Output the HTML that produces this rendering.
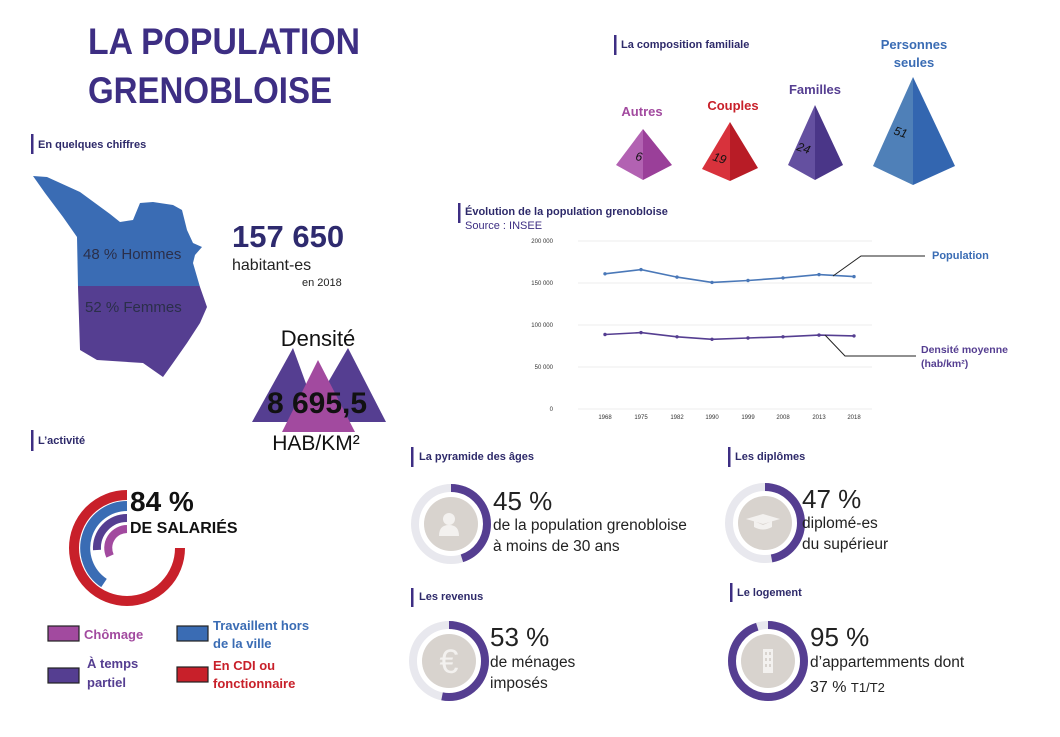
<!DOCTYPE html>
<html><head><meta charset="utf-8"><style>
html,body{margin:0;padding:0;background:#fff;}
svg{display:block;font-family:"Liberation Sans",sans-serif;}
.h{font-size:11px;font-weight:bold;fill:#2e2a6a;}
.bar{fill:#3d2e83;}
</style></head><body>
<svg width="1060" height="737" viewBox="0 0 1060 737" xmlns="http://www.w3.org/2000/svg">
<rect width="1060" height="737" fill="#fff"/>
<text x="88" y="54" font-size="37" font-weight="bold" fill="#3d2e83" textLength="272" lengthAdjust="spacingAndGlyphs">LA POPULATION</text>
<text x="88" y="103" font-size="37" font-weight="bold" fill="#3d2e83" textLength="244" lengthAdjust="spacingAndGlyphs">GRENOBLOISE</text>

<rect class="bar" x="31" y="134" width="2.5" height="20"/><text class="h" x="38" y="148">En quelques chiffres</text>
<rect class="bar" x="31" y="430" width="2.5" height="21"/><text class="h" x="38" y="444">L’activité</text>
<rect class="bar" x="614" y="35" width="2.5" height="20"/><text class="h" x="621" y="48">La composition familiale</text>
<rect class="bar" x="458" y="203" width="2.5" height="20"/><text class="h" x="465" y="215">Évolution de la population grenobloise</text>
<text x="465" y="229" font-size="11" fill="#3d2e83">Source : INSEE</text>
<rect class="bar" x="411" y="447" width="2.5" height="20"/><text class="h" x="419" y="460">La pyramide des âges</text>
<rect class="bar" x="728" y="447" width="2.5" height="20"/><text class="h" x="735" y="460">Les diplômes</text>
<rect class="bar" x="411" y="588" width="2.5" height="19"/><text class="h" x="419" y="600">Les revenus</text>
<rect class="bar" x="730" y="583" width="2.5" height="19"/><text class="h" x="737" y="596">Le logement</text>

<defs><clipPath id="mp"><path d="M33,176 L47,177 L80,192 L110,214 L120,222 L133,220 L140,203 L153,202 L173,205 L182,210 L187,230 L193,243 L202,247 L195,255 L193,263 L200,287 L207,307 L200,323 L187,343 L173,363 L163,377 L143,363 L97,360 L80,350 L78,287 L77,237 L63,217 L45,193 Z"/></clipPath></defs>
<g clip-path="url(#mp)">
<rect x="20" y="160" width="200" height="126" fill="#3a6cb4"/>
<rect x="20" y="286" width="200" height="100" fill="#553e91"/>
</g>
<text x="83" y="259" font-size="15" fill="#2b2f4a">48 % Hommes</text>
<text x="85" y="312" font-size="15" fill="#2b2f4a">52 % Femmes</text>

<text x="232" y="247" font-size="31" font-weight="bold" fill="#2e2a6e">157 650</text>
<text x="232" y="270" font-size="16" fill="#222">habitant-es</text>
<text x="302" y="286" font-size="11" fill="#222">en 2018</text>

<text x="318" y="346" font-size="22" fill="#111" text-anchor="middle">Densité</text>
<polygon points="293,348 252,422 320,422" fill="#553e91"/>
<polygon points="348,348 305,422 386,422" fill="#553e91"/>
<polygon points="318,360 282,432 355,432" fill="#a24a9f"/>
<text x="317" y="413" font-size="30" font-weight="bold" fill="#111" text-anchor="middle">8 695,5</text>
<text x="316" y="450" font-size="21" fill="#111" text-anchor="middle">HAB/KM²</text>

<g fill="none" stroke-linecap="butt">
<path d="M127,495 A53,53 0 1 0 180,548" stroke="#c8202a" stroke-width="10"/>
<path d="M127,506 A42,42 0 0 0 104,583" stroke="#3a6cb4" stroke-width="10"/>
<path d="M127,518 A30,30 0 0 0 97,550" stroke="#553e91" stroke-width="8"/>
<path d="M127,529 A19,19 0 0 0 110,556" stroke="#a24a9f" stroke-width="8"/>
</g>
<text x="130" y="511" font-size="28" font-weight="bold" fill="#111">84 %</text>
<text x="130" y="533" font-size="16" font-weight="bold" fill="#111">DE SALARIÉS</text>

<rect x="48" y="626" width="31" height="15" fill="#a24a9f" stroke="#222" stroke-width="1.2"/>
<text x="84" y="639" font-size="13" font-weight="bold" fill="#a24a9f">Chômage</text>
<rect x="177" y="626" width="31" height="15" fill="#3a6cb4" stroke="#222" stroke-width="1.2"/>
<text x="213" y="630" font-size="13" font-weight="bold" fill="#3a6cb4">Travaillent hors</text>
<text x="213" y="648" font-size="13" font-weight="bold" fill="#3a6cb4">de la ville</text>
<rect x="48" y="668" width="31" height="15" fill="#553e91" stroke="#222" stroke-width="1.2"/>
<text x="87" y="668" font-size="13" font-weight="bold" fill="#553e91">À temps</text>
<text x="87" y="687" font-size="13" font-weight="bold" fill="#553e91">partiel</text>
<rect x="177" y="667" width="31" height="15" fill="#c8202a" stroke="#222" stroke-width="1.2"/>
<text x="213" y="670" font-size="13" font-weight="bold" fill="#c8202a">En CDI ou</text>
<text x="213" y="688" font-size="13" font-weight="bold" fill="#c8202a">fonctionnaire</text>

<g font-size="13" font-weight="bold" text-anchor="middle">
<text x="642" y="116" fill="#a24a9f">Autres</text>
<text x="733" y="110" fill="#c8202a">Couples</text>
<text x="815" y="94" fill="#553e91">Familles</text>
<text x="914" y="49" fill="#3a6cb4">Personnes</text>
<text x="914" y="67" fill="#3a6cb4">seules</text>
</g>
<polygon points="643,129 616,165 643,180" fill="#b262b2"/><polygon points="643,129 643,180 672,165" fill="#9a3f99"/>
<polygon points="730,122 702,169 730,181" fill="#d8323c"/><polygon points="730,122 730,181 758,168" fill="#b81c26"/>
<polygon points="815,105 788,165 815,180" fill="#6450a0"/><polygon points="815,105 815,180 843,165" fill="#4a3688"/>
<polygon points="913,77 873,166 913,185" fill="#4f80b8"/><polygon points="913,77 913,185 955,166" fill="#3366b0"/>
<g font-size="12" font-style="italic" fill="#111">
<text x="635" y="160" transform="rotate(10 635 160)">6</text>
<text x="712" y="160" transform="rotate(18 712 160)">19</text>
<text x="796" y="150" transform="rotate(18 796 150)">24</text>
<text x="893" y="134" transform="rotate(18 893 134)">51</text>
</g>

<g stroke="#ececec" stroke-width="1">
<line x1="578" y1="241" x2="872" y2="241"/><line x1="578" y1="283" x2="872" y2="283"/>
<line x1="578" y1="325" x2="872" y2="325"/><line x1="578" y1="367" x2="872" y2="367"/>
<line x1="578" y1="409" x2="872" y2="409"/>
</g>
<g font-size="6" fill="#333" text-anchor="end">
<text x="553" y="243">200 000</text><text x="553" y="285">150 000</text><text x="553" y="327">100 000</text><text x="553" y="369">50 000</text><text x="553" y="411">0</text>
</g>
<g font-size="6" fill="#333" text-anchor="middle">
<text x="605" y="419">1968</text><text x="641" y="419">1975</text><text x="677" y="419">1982</text><text x="712" y="419">1990</text><text x="748" y="419">1999</text><text x="783" y="419">2008</text><text x="819" y="419">2013</text><text x="854" y="419">2018</text>
</g>
<polyline fill="none" stroke="#4a78b8" stroke-width="1.6" points="605,273.8 641,269.6 677,277.1 712,282.4 748,280.5 783,277.9 819,274.6 854,276.6"/>
<polyline fill="none" stroke="#553e91" stroke-width="1.6" points="605,334.5 641,332.6 677,336.8 712,339.3 748,338.0 783,336.8 819,335.1 854,335.9"/>
<g fill="#4a78b8"><circle cx="605" cy="273.8" r="1.7"/><circle cx="641" cy="269.6" r="1.7"/><circle cx="677" cy="277.1" r="1.7"/><circle cx="712" cy="282.4" r="1.7"/><circle cx="748" cy="280.5" r="1.7"/><circle cx="783" cy="277.9" r="1.7"/><circle cx="819" cy="274.6" r="1.7"/><circle cx="854" cy="276.6" r="1.7"/></g>
<g fill="#553e91"><circle cx="605" cy="334.5" r="1.7"/><circle cx="641" cy="332.6" r="1.7"/><circle cx="677" cy="336.8" r="1.7"/><circle cx="712" cy="339.3" r="1.7"/><circle cx="748" cy="338" r="1.7"/><circle cx="783" cy="336.8" r="1.7"/><circle cx="819" cy="335.1" r="1.7"/><circle cx="854" cy="335.9" r="1.7"/></g>
<polyline fill="none" stroke="#222" stroke-width="1" points="833,276 861,256 925,256"/>
<polyline fill="none" stroke="#222" stroke-width="1" points="825,335 845,356 916,356"/>
<text x="932" y="259" font-size="11" font-weight="bold" fill="#3a6cb4">Population</text>
<text x="921" y="353" font-size="10.5" font-weight="bold" fill="#553e91">Densité moyenne</text>
<text x="921" y="367" font-size="10.5" font-weight="bold" fill="#553e91">(hab/km²)</text>

<!-- Donuts -->
<g fill="none" stroke-width="8">
<circle cx="451" cy="524" r="36" stroke="#e8e8ee"/>
<circle cx="451" cy="524" r="36" stroke="#553e91" stroke-dasharray="101.8 300" transform="rotate(-90 451 524)"/>
<circle cx="765" cy="523" r="36" stroke="#e8e8ee"/>
<circle cx="765" cy="523" r="36" stroke="#553e91" stroke-dasharray="106.3 300" transform="rotate(-90 765 523)"/>
<circle cx="449" cy="661" r="36" stroke="#e8e8ee"/>
<circle cx="449" cy="661" r="36" stroke="#553e91" stroke-dasharray="119.9 300" transform="rotate(-90 449 661)"/>
<circle cx="768" cy="661" r="36" stroke="#e8e8ee"/>
<circle cx="768" cy="661" r="36" stroke="#553e91" stroke-dasharray="214.9 300" transform="rotate(-90 768 661)"/>
</g>
<g fill="#d8d3ce"><circle cx="451" cy="524" r="27"/><circle cx="765" cy="523" r="27"/><circle cx="449" cy="661" r="27"/><circle cx="768" cy="661" r="27"/></g>
<g fill="#f3f1ef">
<circle cx="449" cy="519" r="6"/><path d="M439,536 q0,-11 10,-11 q10,0 10,11 z"/>
<polygon points="763,514 780,519 763,524 746,519"/><path d="M754,521 v6 q9,5 18,0 v-6 l-9,4 z"/>
<rect x="763" y="649" width="10" height="24"/>
</g>
<text x="449" y="673" font-size="34" fill="#f3f1ef" text-anchor="middle">€</text>
<g fill="#d8d3ce"><rect x="765" y="652" width="2" height="3"/><rect x="769" y="652" width="2" height="3"/><rect x="765" y="658" width="2" height="3"/><rect x="769" y="658" width="2" height="3"/><rect x="765" y="664" width="2" height="3"/><rect x="769" y="664" width="2" height="3"/></g>

<g fill="#222">
<text x="493" y="510" font-size="26">45 %</text>
<text x="493" y="530" font-size="15.5">de la population grenobloise</text>
<text x="493" y="551" font-size="15.5">à moins de 30 ans</text>
<text x="802" y="508" font-size="26">47 %</text>
<text x="802" y="528" font-size="15.5">diplomé-es</text>
<text x="802" y="549" font-size="15.5">du supérieur</text>
<text x="490" y="646" font-size="26">53 %</text>
<text x="490" y="667" font-size="15.5">de ménages</text>
<text x="490" y="688" font-size="15.5">imposés</text>
<text x="810" y="646" font-size="26">95 %</text>
<text x="810" y="667" font-size="15.5">d’appartemments dont</text>
<text x="810" y="692" font-size="16">37 % <tspan font-size="13">T1/T2</tspan></text>
</g>
</svg>
</body></html>
